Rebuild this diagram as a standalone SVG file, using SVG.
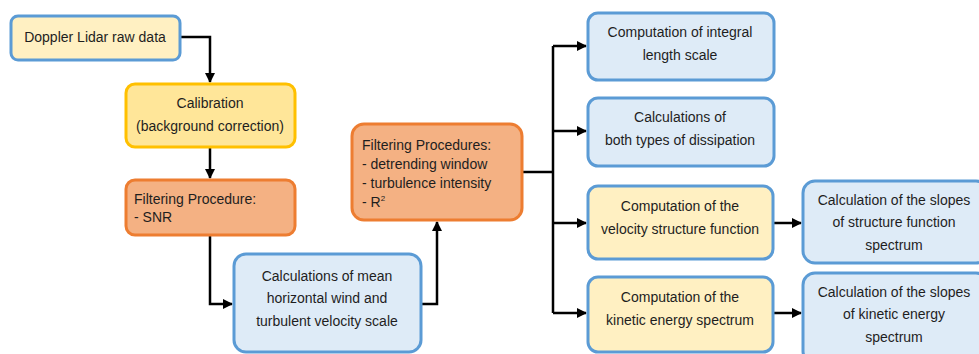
<svg xmlns="http://www.w3.org/2000/svg" width="979" height="354" viewBox="0 0 979 354">
<style>
text{font-family:"Liberation Sans",Arial,sans-serif;font-size:14px;fill:#1e1e1e}
.c{text-anchor:middle}
.blue{fill:#deebf7;stroke:#5b9bd5;stroke-width:3}
.yel{fill:#ffe699;stroke:#ffc000;stroke-width:3}
.ora{fill:#f4b183;stroke:#ed7d31;stroke-width:3}
.ylw{fill:#fff0c2;stroke:#5b9bd5;stroke-width:3}
.ln{fill:none;stroke:#000;stroke-width:2.5;marker-end:url(#ah)}
.ln0{fill:none;stroke:#000;stroke-width:2.5}
</style>
<defs>
<marker id="ah" viewBox="0 0 10 10" refX="9" refY="5" markerWidth="4" markerHeight="4" orient="auto" markerUnits="strokeWidth">
<path d="M0,0 L10,5 L0,10 z" fill="#000"/>
</marker>
</defs>
<rect width="979" height="354" fill="#fff"/>
<g id="connectors">
<path class="ln" d="M180,37 H210 V82"/>
<path class="ln" d="M210,148 V178"/>
<path class="ln" d="M210,235 V304 H232"/>
<path class="ln" d="M421,304 H437 V222"/>
<path class="ln0" d="M522,172 H553"/>
<path class="ln0" d="M553,46 V313"/>
<path class="ln" d="M553,46 H586"/>
<path class="ln" d="M553,131 H586"/>
<path class="ln" d="M553,223 H586"/>
<path class="ln" d="M553,313 H586"/>
<path class="ln" d="M773,223 H801"/>
<path class="ln" d="M773,313 H801"/>
</g>
<g id="raw">
<rect class="ylw" x="11" y="16" width="169" height="44" rx="7"/>
<text x="95" y="42" class="c">Doppler Lidar raw data</text>
</g>
<g id="calib">
<rect class="yel" x="126" y="84" width="169" height="63" rx="9"/>
<text x="210" y="108" class="c">Calibration</text>
<text x="210" y="131" class="c">(background correction)</text>
</g>
<g id="filter1">
<rect class="ora" x="126" y="180" width="169" height="55" rx="9"/>
<text x="134" y="204">Filtering Procedure:</text>
<text x="134" y="222">- SNR</text>
</g>
<g id="mean">
<rect class="blue" x="234" y="254" width="187" height="98" rx="12"/>
<text x="327" y="281" class="c">Calculations of mean</text>
<text x="327" y="303" class="c">horizontal wind and</text>
<text x="327" y="326" class="c">turbulent velocity scale</text>
</g>
<g id="filter2">
<rect class="ora" x="352" y="124" width="170" height="96" rx="12"/>
<text x="362" y="150">Filtering Procedures:</text>
<text x="362" y="169">- detrending window</text>
<text x="362" y="188">- turbulence  intensity</text>
<text x="362" y="207">- R<tspan font-size="8" dy="-6">2</tspan></text>
</g>
<g id="integral">
<rect class="blue" x="588" y="13" width="186" height="67" rx="10"/>
<text x="680" y="37" class="c">Computation of integral</text>
<text x="680" y="60" class="c">length scale</text>
</g>
<g id="dissip">
<rect class="blue" x="588" y="98" width="186" height="68" rx="10"/>
<text x="680" y="122" class="c">Calculations of</text>
<text x="680" y="145" class="c">both types of dissipation</text>
</g>
<g id="vsf">
<rect class="ylw" x="588" y="186" width="185" height="73" rx="10"/>
<text x="680" y="211" class="c">Computation of the</text>
<text x="680" y="234" class="c">velocity structure function</text>
</g>
<g id="kes">
<rect class="ylw" x="588" y="277" width="185" height="75" rx="10"/>
<text x="680" y="302" class="c">Computation of the</text>
<text x="680" y="325" class="c">kinetic energy spectrum</text>
</g>
<g id="slopes1">
<rect class="blue" x="803" y="181" width="185" height="82" rx="12"/>
<text x="894" y="205" class="c">Calculation of the slopes</text>
<text x="894" y="227" class="c">of structure function</text>
<text x="894" y="250" class="c">spectrum</text>
</g>
<g id="slopes2">
<rect class="blue" x="803" y="273" width="185" height="90" rx="12"/>
<text x="894" y="297" class="c">Calculation of the slopes</text>
<text x="894" y="319" class="c">of kinetic energy</text>
<text x="894" y="342" class="c">spectrum</text>
</g>
</svg>
